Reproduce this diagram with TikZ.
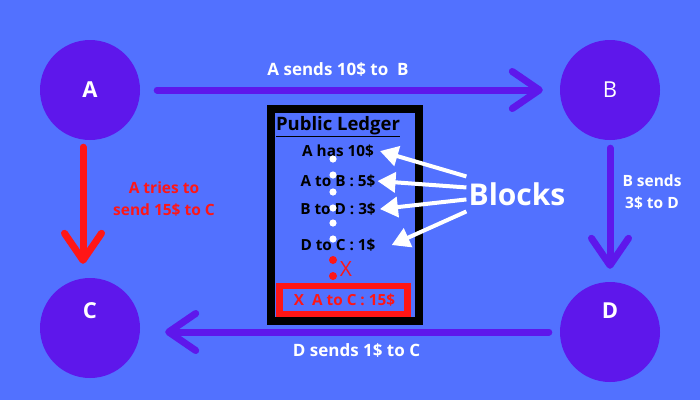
\documentclass[tikz,border=0pt]{standalone}
\usepackage{fontspec}
\setmainfont{Open Sans}
\usetikzlibrary{arrows.meta}
\definecolor{bgblue}{HTML}{5271FF}
\definecolor{purp}{HTML}{5E17EB}
\definecolor{redx}{HTML}{FF1616}
\begin{document}
\begin{tikzpicture}[x=1pt,y=-1pt,
  vert/.style={circle, fill=purp, draw=none, minimum size=100pt, inner sep=0pt},
  letterb/.style={font=\bfseries\fontsize{22}{26}\selectfont, text=white, inner sep=0pt},
  letterr/.style={font=\fontsize{22}{26}\selectfont, text=white, inner sep=0pt},
  conn/.style={draw=purp, line width=7pt, line cap=round,
    -{Straight Barb[length=27pt,width=37pt,line cap=round,line join=round]}},
  redconn/.style={conn, draw=redx},
  elab/.style={font=\bfseries\fontsize{17}{20}\selectfont, text=white, inner sep=2pt},
  elabs/.style={font=\bfseries\fontsize{15.5}{22}\selectfont, text=white, inner sep=2pt, align=center},
  item/.style={font=\bfseries\fontsize{15.3}{18}\selectfont, text=black, inner sep=2pt, anchor=base},
  blockarrow/.style={draw=white, line width=4pt, -{Triangle[length=18pt,width=20pt]}},
  wdot/.style={fill=white, draw=none},
  rdot/.style={fill=redx, draw=none}
]
\fill[bgblue] (0,0) rectangle (700,400);
\useasboundingbox (0,0) rectangle (700,400);

% vertices
\node[vert, letterb] (A) at (90,90) {A};
\node[vert, letterr] (B) at (610,90) {B};
\node[vert, label={[letterb, yshift=17pt]center:C}] (C) at (90,328) {};
\node[vert, label={[letterb, yshift=21pt]center:D}] (D) at (610,332) {};

% transfers
\draw[conn, shorten <=17pt, shorten >=17pt] (A) -- (B);
\draw[conn, shorten <=8pt, shorten >=13pt] (B) -- (D);
\draw[conn, shorten <=11pt, shorten >=25pt] (D.west) -- (D.west -| C.east);
\draw[redconn, shorten <=7pt, shorten >=14pt] ([xshift=-7pt]A.south) -- ([xshift=-7pt]C.north);

% transfer labels
\node[elab, anchor=base] (lab1) at (338,75) {A sends 10\$ to\ \ B};
\node[elabs] (lab2) at (652,192) {B sends\\3\$ to D};
\node[elab, anchor=base] (lab3) at (356.5,356) {D sends 1\$ to C};
\node[elabs, text=redx] (lab4) at (164,199) {A tries to\\send 15\$ to C};

% ledger
\draw[black, line width=8pt] (271,109) rectangle (419,320.5);
\draw[redx, line width=6.5pt] (279.5,286) rectangle (407.5,314);
\node[font=\bfseries\fontsize{18.5}{20}\selectfont, inner sep=2pt, anchor=base] (pl) at (338,130.5) {\underline{Public Ledger}};
\node[item] (ah) at (338,156.4) {A has 10\$};
\node[item] (ab) at (338,186.4) {A to B : 5\$};
\node[item] (bd) at (338,214.4) {B to D : 3\$};
\node[item] (dc) at (338,250.4) {D to C : 1\$};
\node[item, text=redx] (ac) at (344.5,305.4) {X\ \ A to C : 15\$};

% chain dots
\foreach \yy in {159,175,192,208,223,239} \fill[wdot] (333,\yy) circle (3.6pt);
\foreach \yy in {260,276} \fill[rdot] (333,\yy) circle (4pt);
\node[font=\fontsize{21}{24}\selectfont, text=redx, inner sep=0pt] (xm) at (346,269) {X};

% blocks
\node[font=\bfseries\fontsize{30}{34}\selectfont, text=white, inner sep=2pt, anchor=base] (bl) at (517,205.7) {Blocks};
\draw[blockarrow] ([yshift=18pt]bl.west) -- ([xshift=4pt]ah.east);
\draw[blockarrow] ([yshift=7pt]bl.west) -- (ab.east);
\draw[blockarrow] ([yshift=-5pt]bl.west) -- ([xshift=2pt]bd.east);
\draw[blockarrow] ([yshift=-17pt]bl.west) -- ([xshift=14pt]dc.east);
\end{tikzpicture}
\end{document}
